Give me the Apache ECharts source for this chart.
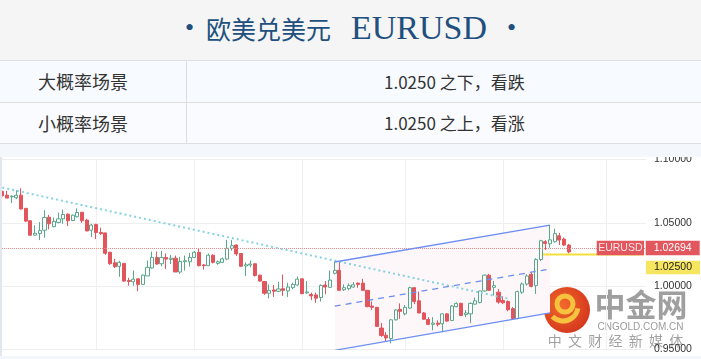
<!DOCTYPE html>
<html>
<head>
<meta charset="utf-8">
<script src="https://cdn.jsdelivr.net/npm/echarts@6/dist/echarts.min.js"></script>
<style>
html,body{margin:0;padding:0;width:701px;height:359px;overflow:hidden;background:#fff;}
.abs{position:absolute;}
#hdr{left:0;top:0;width:701px;height:60px;background:#f5f5f5;}
.tt{position:absolute;top:0;height:56px;line-height:56px;color:#21507e;white-space:pre;}
.cn{font-family:"Noto Sans CJK SC",sans-serif;font-size:25px;}
.en{font-family:"Liberation Serif",serif;font-size:34px;}
.dot{font-family:"Liberation Serif",serif;font-size:26px;}
.row{left:0;width:701px;border-top:1px solid #dedede;box-sizing:border-box;}
.txt{position:absolute;font-family:"Noto Sans CJK SC",sans-serif;font-size:17px;color:#333;white-space:pre;}
</style>
</head>
<body>
<div id="hdr" class="abs">
  <span class="tt dot" style="left:185px;">•</span>
  <span class="tt cn" style="left:206px;">欧美兑美元</span>
  <span class="tt en" style="left:351px;">EURUSD</span>
  <span class="tt dot" style="left:507px;">•</span>
</div>
<div class="abs row" style="top:60px;height:42px;background:#f7faff;">
  <div class="txt" style="left:38px;top:0;line-height:41px;font-size:18px;">大概率场景</div>
  <div class="txt" style="left:384px;top:0;line-height:41px;">1.0250 之下，看跌</div>
</div>
<div class="abs row" style="top:102px;height:42px;background:#fafbfe;border-bottom:1px solid #dedede;">
  <div class="txt" style="left:38px;top:0;line-height:40px;font-size:18px;">小概率场景</div>
  <div class="txt" style="left:384px;top:0;line-height:40px;">1.0250 之上，看涨</div>
</div>
<div class="abs" style="left:186px;top:60px;width:1px;height:83px;background:#dedede;"></div>
<div id="chart" class="abs" style="left:0;top:154px;width:701px;height:205px;background:#fff;"></div>
<div class="abs" style="left:0;top:144px;width:701px;height:13px;background:#f4f7fc;z-index:5;"></div>
<div class="abs" style="left:0;top:157px;width:2px;height:202px;background:#e2e7ef;z-index:5;"></div>
<div class="abs" style="left:0;top:356px;width:701px;height:3px;background:#f3f6fb;z-index:5;"></div>
<script>
// ---- data ----
const opens  = [1.0747,1.0718,1.0705,1.0697,1.0718,1.0614,1.0516,1.0402,1.0415,1.0441,
                1.0544,1.0469,1.0503,1.0531,1.0568,1.0518,1.0547,1.0583,1.0521,1.0441,
                1.0487,1.0423,1.0420,1.0267,1.0184,1.0156,1.0179,1.0044,1.0034,1.0057,
                1.0013,1.0080,1.0143,1.0226,1.0176,1.0226,1.0210,1.0220,1.0111,1.0192,
                1.0192,1.0226,1.0267,1.0166,1.0161,1.0244,1.0179,1.0187,1.0213,1.0298,
                1.0324,1.0257,1.0158,1.0166,1.0176,1.0086,1.0036,0.9943,0.9969,0.9959,
                0.9979,0.9961,0.9987,1.0008,1.0057,0.9946,0.9933,0.9930,0.9909,1.0008,
                0.9990,1.0101,1.0124,0.9971,0.9979,0.9992,1.0023,1.0023,0.9966,0.9842,
                0.9832,0.9668,0.9611,0.9585,0.9733,0.9816,0.9780,0.9826,0.9987,0.9883,
                0.9787,0.9736,0.9697,0.9707,0.9702,0.9780,0.9728,0.9837,0.9863,0.9774,
                0.9780,0.9857,0.9870,0.9961,1.0086,0.9990,0.9951,0.9886,0.9878,0.9821,
                0.9743,0.9951,1.0016,1.0093,1.0003,1.0210,1.0350,1.0334,1.0350,1.0397,
                1.0371,1.0324];
const closes = [1.0713,1.0695,1.0710,1.0718,1.0609,1.0513,1.0402,1.0417,1.0438,1.0542,
                1.0492,1.0511,1.0531,1.0565,1.0516,1.0560,1.0581,1.0516,1.0435,1.0482,
                1.0423,1.0415,1.0259,1.0176,1.0153,1.0187,1.0039,1.0036,1.0054,1.0013,
                1.0086,1.0148,1.0226,1.0174,1.0226,1.0213,1.0220,1.0111,1.0194,1.0200,
                1.0226,1.0267,1.0161,1.0161,1.0244,1.0187,1.0192,1.0215,1.0298,1.0319,
                1.0254,1.0156,1.0168,1.0174,1.0083,1.0039,0.9943,0.9966,0.9959,0.9977,
                0.9966,0.9992,1.0013,1.0054,0.9940,0.9953,0.9922,0.9904,1.0005,0.9992,
                1.0047,1.0124,0.9966,0.9987,1.0003,1.0010,1.0013,0.9966,0.9837,0.9832,
                0.9681,0.9609,0.9590,0.9733,0.9811,0.9800,0.9832,0.9987,0.9878,0.9787,
                0.9738,0.9697,0.9707,0.9697,0.9780,0.9723,0.9842,0.9863,0.9767,0.9787,
                0.9863,0.9883,0.9961,1.0086,0.9966,1.0003,0.9873,0.9868,0.9813,0.9743,
                0.9956,1.0016,1.0080,0.9997,1.0210,1.0358,1.0337,1.0365,1.0414,1.0363,
                1.0324,1.02694];
const lows   = [1.0708,1.0695,1.0656,1.0687,1.0604,1.0505,1.0397,1.0397,1.0363,1.0381,
                1.0448,1.0464,1.0495,1.0492,1.0474,1.0513,1.0542,1.0500,1.0435,1.0386,
                1.0371,1.0402,1.0246,1.0168,1.0143,1.0073,1.0034,1.0003,1.0003,0.9959,
                1.0008,1.0080,1.0137,1.0168,1.0156,1.0135,1.0174,1.0111,1.0096,1.0122,
                1.0153,1.0220,1.0156,1.0130,1.0158,1.0179,1.0168,1.0181,1.0205,1.0280,
                1.0238,1.0150,1.0078,1.0148,1.0075,1.0034,0.9930,0.9902,0.9914,0.9953,
                0.9922,0.9914,0.9974,1.0005,0.9935,0.9940,0.9889,0.9868,0.9878,0.9935,
                0.9984,1.0091,0.9966,0.9961,0.9966,0.9987,0.9987,0.9961,0.9832,0.9811,
                0.9676,0.9598,0.9559,0.9546,0.9728,0.9741,0.9767,0.9819,0.9857,0.9785,
                0.9733,0.9692,0.9650,0.9681,0.9635,0.9715,0.9723,0.9832,0.9762,0.9754,
                0.9707,0.9852,0.9863,0.9956,0.9961,0.9925,0.9860,0.9857,0.9800,0.9738,
                0.9738,0.9938,1.0003,0.9990,0.9938,1.0197,1.0285,1.0303,1.0342,1.0324,
                1.0316,1.0259];
const highs  = [1.0754,1.0752,1.0718,1.0757,1.0772,1.0614,1.0518,1.0480,1.0505,1.0599,
                1.0562,1.0542,1.0581,1.0604,1.0575,1.0565,1.0614,1.0583,1.0531,1.0492,
                1.0492,1.0461,1.0420,1.0267,1.0215,1.0200,1.0179,1.0065,1.0122,1.0057,
                1.0091,1.0202,1.0272,1.0272,1.0277,1.0257,1.0246,1.0241,1.0231,1.0241,
                1.0262,1.0277,1.0293,1.0174,1.0257,1.0251,1.0202,1.0226,1.0365,1.0365,
                1.0329,1.0257,1.0187,1.0202,1.0176,1.0091,1.0039,1.0013,1.0008,1.0034,
                1.0091,1.0026,1.0026,1.0075,1.0057,1.0039,0.9948,0.9948,1.0013,1.0039,
                1.0122,1.0194,1.0192,1.0013,1.0021,1.0031,1.0028,1.0057,0.9966,0.9878,
                0.9832,0.9707,0.9637,0.9738,0.9816,0.9863,0.9850,0.9995,0.9992,0.9956,
                0.9795,0.9754,0.9754,0.9728,0.9785,0.9785,0.9850,0.9870,0.9868,0.9811,
                0.9870,0.9909,0.9961,1.0091,1.0096,1.0041,0.9977,0.9920,0.9886,0.9834,
                0.9964,1.0029,1.0093,1.0106,1.0220,1.0365,1.0363,1.0482,1.0453,1.0420,
                1.0383,1.0332];
const categoryCount = 138;           // visible slots on the time axis (candles + empty space on the right)
const categories = Array.from({length: categoryCount}, (_, i) => String(i + 1));
const dayLineIndex = [20, 41, 64, 86, 107, 129];   // vertical day separators
const yTicks = [0.95, 1.00, 1.05, 1.10];
const lastPrice = 1.02694;
const keyLevel = 1.025;
const symbolName = 'EURUSD';
// drawn lines: [categoryIndex, price]
const trendLine    = [[0, 1.0778], [108, 0.9900]];
const channelUpper = [[71, 1.0190], [117, 1.0482]];
const channelLower = [[71, 0.9492], [117, 0.9788]];
const channelMid   = [[71, 0.9841], [117, 1.0135]];
const keyLine      = [[115, keyLevel], [137, keyLevel]];

const candleData = opens.map((o, i) => [o, closes[i], lows[i], highs[i]]);

const chart = echarts.init(document.getElementById('chart'));
const blue = '#6c8ef2';
chart.setOption({
  animation: false,
  backgroundColor: '#ffffff',
  grid: {left: 0, right: 55, top: 2.4, bottom: 9.7},
  xAxis: {
    type: 'category', data: categories, boundaryGap: true,
    axisLine: {show: false}, axisTick: {show: false}, axisLabel: {show: false},
    splitLine: {show: true, alignWithLabel: true,
      interval: (idx) => dayLineIndex.includes(idx),
      lineStyle: {color: '#f0f0f0', width: 1}}
  },
  yAxis: {
    type: 'value', position: 'right', min: yTicks[0], max: yTicks[yTicks.length - 1], interval: 0.05,
    axisLine: {show: false}, axisTick: {show: false},
    axisLabel: {margin: 8, fontSize: 10.5, color: '#333', fontFamily: 'Liberation Sans, Arial',
      formatter: v => v.toFixed(5)},
    splitLine: {lineStyle: {color: '#eeeeee', width: 1}}
  },
  series: [
    {
      type: 'custom', silent: true, z: 1,
      data: [0],
      renderItem: (params, api) => {
        const pts = [api.coord(channelUpper[0]), api.coord(channelUpper[1]),
                     api.coord(channelLower[1]), api.coord(channelLower[0])];
        return {type: 'polygon', shape: {points: pts}, style: {fill: '#fdf7f9'}};
      }
    },
    {
      type: 'line', data: keyLine, symbol: 'none', silent: true, z: 3,
      lineStyle: {color: '#f5df3c', width: 2},
      markLine: {
        silent: true, symbol: ['none', 'none'], animation: false,
        data: [
          {yAxis: keyLevel, lineStyle: {color: 'rgba(255,255,255,0)', width: 0},
           label: {show: true, position: 'end', distance: 0, verticalAlign: 'top', padding: 0,
             formatter: '{y|' + keyLevel.toFixed(5) + '}',
             rich: {y: {backgroundColor: '#f6e55e', color: '#222', width: 54, height: 13.4, lineHeight: 13.4,
               align: 'center', fontSize: 10.5, fontFamily: 'Liberation Sans, Arial'}}}}
        ]
      }
    },
    {
      type: 'candlestick', data: candleData, barWidth: 3.6, z: 4,
      itemStyle: {color: '#ffffff', color0: '#e2555c', borderColor: '#5aa78c', borderColor0: '#e2555c', borderWidth: 1},
      markLine: {
        silent: true, symbol: ['none', 'none'], animation: false,
        data: [
          {yAxis: lastPrice, lineStyle: {color: '#f08a8a', type: 'dotted', width: 1},
           label: {show: true, position: 'end', distance: -49.3,
             formatter: '{n|' + symbolName + '}{g| }{v|' + lastPrice.toFixed(5) + '}',
             rich: {
               n: {backgroundColor: '#e2575e', color: '#fbe4e5', width: 47.3, height: 14.4, lineHeight: 14.4,
                   align: 'center', fontSize: 10.5, fontFamily: 'Liberation Sans, Arial'},
               g: {width: 1.7, height: 14.4, fontSize: 2},
               v: {backgroundColor: '#e2575e', color: '#ffffff', width: 54, height: 14.4, lineHeight: 14.4,
                   align: 'center', fontSize: 10.5, fontFamily: 'Liberation Sans, Arial'}
             }}}
        ]
      }
    },
    {type: 'line', data: trendLine, symbol: 'none', silent: true, z: 5,
     lineStyle: {color: '#86d2e3', type: [2, 3], width: 2}},
    {type: 'line', data: channelUpper, symbol: 'none', silent: true, z: 5,
     lineStyle: {color: blue, width: 1.3}},
    {type: 'line', data: channelLower, symbol: 'none', silent: true, z: 5,
     lineStyle: {color: blue, width: 1.3}},
    {type: 'line', data: channelMid, symbol: 'none', silent: true, z: 5,
     lineStyle: {color: blue, width: 1.3, type: [6, 5]}}
  ],
  graphic: [
    {type: 'group', z: 100, silent: true, children: [
      {type: 'circle', shape: {cx: 567, cy: 156, r: 23},
       style: {fill: new echarts.graphic.RadialGradient(0.4, 0.4, 0.8, [{offset: 0, color: '#f26a2a'}, {offset: 1, color: '#cc2a1a'}])}},
      {type: 'arc', shape: {cx: 565, cy: 150, r: 8, startAngle: 0, endAngle: Math.PI * 2},
       style: {stroke: '#f7c23e', lineWidth: 5, fill: null}},
      {type: 'arc', shape: {cx: 563, cy: 152, r: 15, startAngle: Math.PI * 0.05, endAngle: Math.PI * 0.75},
       style: {stroke: '#f7c23e', lineWidth: 5, fill: null}},
      {type: 'text', x: 641, y: 150,
       style: {text: '中金网', fill: '#8e8e8e', opacity: 0.85, font: 'bold 31px "Noto Sans CJK SC"', align: 'center', verticalAlign: 'middle'}},
      {type: 'text', x: 640.5, y: 173.5,
       style: {text: 'CNGOLD.COM.CN', fill: '#8a8a8a', opacity: 0.85, font: '10px "Liberation Sans", Arial', align: 'center', verticalAlign: 'middle'}},
      {type: 'text', x: 615.5, y: 187,
       style: {text: '中  文  财  经  新  媒  体', fill: '#8a8a8a', opacity: 0.8, font: '14px "Noto Sans CJK SC"', align: 'center', verticalAlign: 'middle'}}
    ]}
  ]
});
</script>
</body>
</html>
